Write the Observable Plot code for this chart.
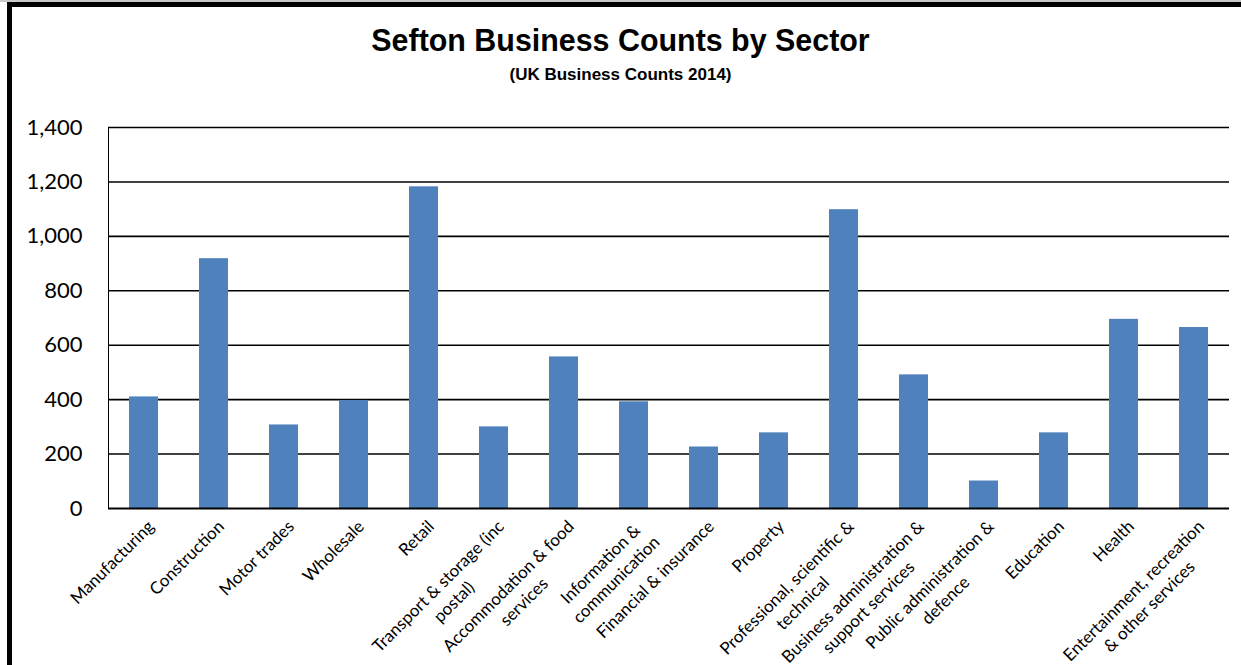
<!DOCTYPE html>
<html>
<head>
<meta charset="utf-8">
<script src="https://cdn.jsdelivr.net/npm/d3@7"></script>
<script src="https://cdn.jsdelivr.net/npm/@observablehq/plot@0.6"></script>
<style>
  html, body { margin: 0; padding: 0; background: #fff; }
  #page { position: absolute; left: 0; top: 0; width: 1241px; height: 665px; overflow: hidden; background: #fff; }
  .title { position: absolute; left: 0; width: 1241px; text-align: center; font-family: "Liberation Sans", Arial, sans-serif; font-weight: bold; color: #000; white-space: nowrap; }
  #t1 { top: 24px; font-size: 32px; line-height: 32px; transform: scaleX(0.95); }
  #t2 { top: 66px; font-size: 17px; line-height: 17px; }
  #chart { position: absolute; left: 0; top: 100px; }
</style>
</head>
<body>
<div id="page">
  <div style="position:absolute;left:0;top:0;width:1241px;height:2px;background:#c8c8c8"></div>
  <div style="position:absolute;left:7px;top:2px;width:1234px;height:5px;background:#000"></div>
  <div style="position:absolute;left:7px;top:2px;width:5px;height:663px;background:#000"></div>
  <div class="title" id="t1">Sefton Business Counts by Sector</div>
  <div class="title" id="t2">(UK Business Counts 2014)</div>
  <div id="chart"></div>
</div>
<script>
const sectors = [
  "Manufacturing", "Construction", "Motor trades", "Wholesale", "Retail",
  "Transport & storage (inc postal)", "Accommodation & food services",
  "Information & communication", "Financial & insurance", "Property",
  "Professional, scientific & technical", "Business administration & support services",
  "Public administration & defence", "Education", "Health",
  "Entertainment, recreation & other services"
];
const counts = [410, 918, 307, 397, 1182, 300, 557, 392, 226, 278, 1098, 491, 101, 278, 695, 665];
const tickLabels = [
  "Manufacturing", "Construction", "Motor trades", "Wholesale", "Retail",
  "Transport & storage (inc\npostal)", "Accommodation & food\nservices",
  "Information &\ncommunication", "Financial & insurance", "Property",
  "Professional, scientific &\ntechnical", "Business administration &\nsupport services",
  "Public administration &\ndefence", "Education", "Health",
  "Entertainment, recreation\n& other services"
];
const yTicks = [0, 200, 400, 600, 800, 1000, 1200, 1400];

const data = sectors.map((s, i) => ({sector: s, count: counts[i], label: tickLabels[i]}));

const chart = Plot.plot({
  width: 1241,
  height: 565,
  marginLeft: 108,
  marginRight: 12,
  marginTop: 27,
  marginBottom: 157,
  style: {background: "transparent", color: "#000", fontFamily: "Lato, 'Open Sans', sans-serif"},
  x: {domain: sectors, paddingInner: 0.586, paddingOuter: 0.293, axis: null},
  y: {
    domain: [0, 1400],
    ticks: yTicks,
    tickFormat: d3.format(","),
    tickSize: 0,
    tickPadding: 26,
    label: null,
    line: true,
    fontSize: 22
  },
  marks: [
    Plot.ruleY(yTicks.filter(d => d > 0), {stroke: "#000", strokeWidth: 1.6}),
    Plot.barY(data, {x: "sector", y: "count", fill: "#4F81BD"}),
    Plot.ruleY([0], {stroke: "#000", strokeWidth: 2}),
    Plot.text(data, {
      x: "sector",
      text: "label",
      frameAnchor: "bottom",
      rotate: -45,
      textAnchor: "end",
      lineAnchor: "top",
      lineHeight: 1.3,
      dx: 0,
      dy: 8,
      fontSize: 17,
      fill: "#000"
    })
  ]
});
document.getElementById("chart").appendChild(chart);

// y tick label font size
chart.querySelectorAll('[aria-label="y-axis"] text, [aria-label="y-axis tick label"] text').forEach(t => {
  t.setAttribute("font-size", "22");
  t.style.fontSize = "22px";
});

// center multi-line rotated labels on their longest line (as in the original)
chart.querySelectorAll('[aria-label="text"] text').forEach(t => {
  const spans = t.querySelectorAll("tspan");
  if (spans.length < 2) return;
  let maxW = 0;
  spans.forEach(s => { maxW = Math.max(maxW, s.getComputedTextLength()); });
  t.setAttribute("text-anchor", "middle");
  spans.forEach(s => s.setAttribute("x", -maxW / 2));
});
</script>
</body>
</html>
